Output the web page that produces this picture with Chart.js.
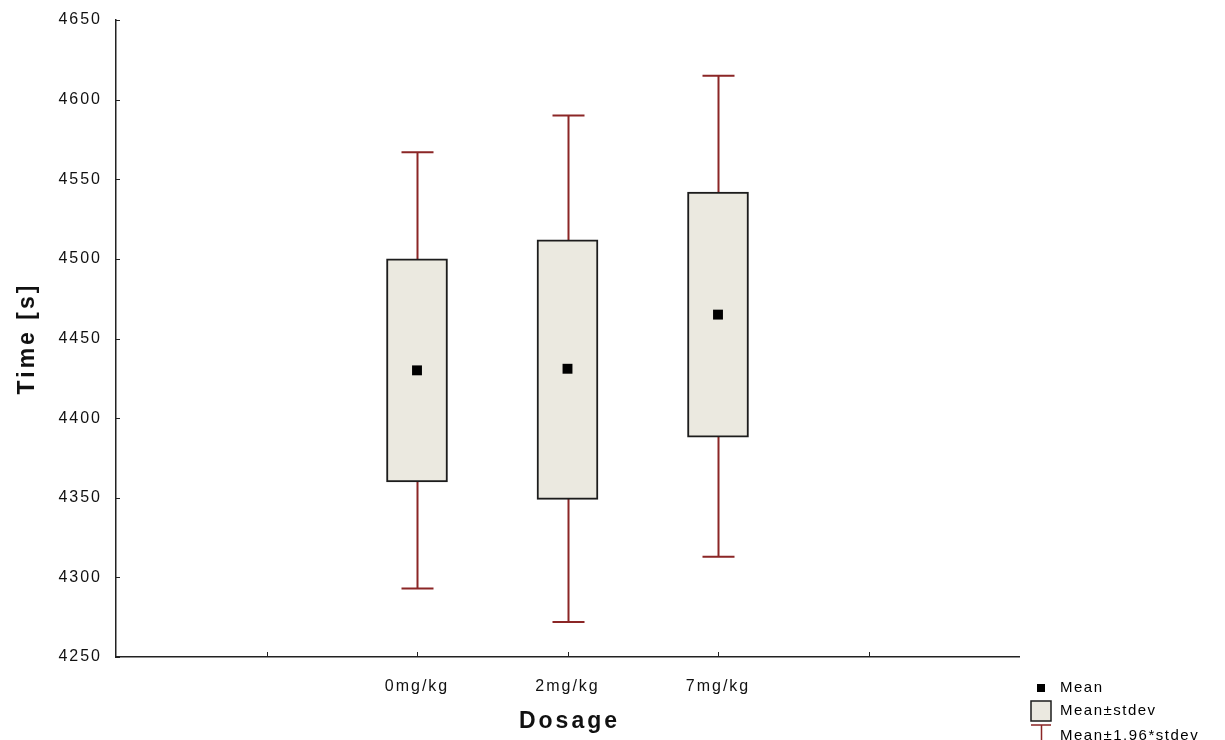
<!DOCTYPE html>
<html>
<head>
<meta charset="utf-8">
<script src="https://cdn.jsdelivr.net/npm/chart.js@4.4.1/dist/chart.umd.min.js"></script>
<style>
  html, body { margin: 0; padding: 0; background: #ffffff; }
  #wrap { width: 1225px; height: 740px; position: relative; }
</style>
</head>
<body>
<div id="wrap"><canvas id="c" width="1225" height="740"></canvas></div>
<script>
// ---- data ----
const categories = ['0mg/kg', '2mg/kg', '7mg/kg'];
const categoryPositions = [2, 3, 4];
const means = [4430, 4431, 4465];
const sdLow = [4360, 4349, 4388];
const sdHigh = [4500, 4512, 4542];
const ciLow = [4293, 4272, 4313];
const ciHigh = [4567, 4590, 4615];
const yMin = 4250, yMax = 4650, yStep = 50;
const xMin = 0, xMax = 6;
const legendLabels = ['Mean', 'Mean±stdev', 'Mean±1.96*stdev'];
const xTitle = 'Dosage';
const yTitle = 'Time [s]';

const WHISKER = '#8b2626';
const BOXFILL = '#ebe9e0';
const BOXLINE = '#1c1c1c';
const FONT = '"Liberation Sans", Arial, sans-serif';

const decor = {
  id: 'decor',
  beforeDraw(chart) {
    chart.ctx.letterSpacing = '2px';
  },
  beforeDatasetsDraw(chart) {
    const ctx = chart.ctx, xs = chart.scales.x, ys = chart.scales.y;
    ctx.save();
    ctx.strokeStyle = WHISKER;
    ctx.lineWidth = 2;
    categoryPositions.forEach((p, i) => {
      const x = Math.round(xs.getPixelForValue(p)) + 0.5;
      const yt = ys.getPixelForValue(ciHigh[i]);
      const yb = ys.getPixelForValue(ciLow[i]);
      ctx.beginPath();
      ctx.moveTo(x, yt); ctx.lineTo(x, yb);
      ctx.moveTo(x - 16, yt); ctx.lineTo(x + 16, yt);
      ctx.moveTo(x - 16, yb); ctx.lineTo(x + 16, yb);
      ctx.stroke();
    });
    ctx.restore();
  },
  afterDraw(chart) {
    const ctx = chart.ctx, xs = chart.scales.x, ys = chart.scales.y;
    const a = chart.chartArea;
    ctx.save();
    // inward ticks
    ctx.strokeStyle = '#222';
    ctx.lineWidth = 1;
    ctx.beginPath();
    for (let v = yMin; v <= yMax; v += yStep) {
      const y = Math.round(ys.getPixelForValue(v)) + 0.5;
      ctx.moveTo(a.left, y); ctx.lineTo(a.left + 4, y);
    }
    for (let v = xMin + 1; v < xMax; v++) {
      const x = Math.round(xs.getPixelForValue(v)) + 0.5;
      ctx.moveTo(x, a.bottom); ctx.lineTo(x, a.bottom - 5);
    }
    ctx.stroke();

    // axis titles
    ctx.fillStyle = '#111';
    ctx.font = 'bold 23px ' + FONT;
    ctx.letterSpacing = '3px';
    ctx.textAlign = 'center';
    ctx.textBaseline = 'middle';
    ctx.fillText(xTitle, (a.left + a.right) / 2 + 2, 722);
    ctx.save();
    ctx.translate(28, (a.top + a.bottom) / 2);
    ctx.rotate(-Math.PI / 2);
    ctx.fillText(yTitle, 0, 0);
    ctx.restore();

    // legend
    ctx.font = '15px ' + FONT;
    ctx.letterSpacing = '1.5px';
    ctx.textAlign = 'left';
    ctx.textBaseline = 'middle';
    const lx = 1041, tx = 1060;
    const rows = [688, 711, 734];
    // mean marker
    ctx.fillStyle = '#000';
    ctx.fillRect(lx - 4, rows[0] - 4, 8, 8);
    ctx.fillText(legendLabels[0], tx, rows[0]);
    // box swatch
    ctx.fillStyle = BOXFILL;
    ctx.fillRect(lx - 10, rows[1] - 10, 20, 20);
    ctx.strokeStyle = BOXLINE;
    ctx.lineWidth = 1.5;
    ctx.strokeRect(lx - 10, rows[1] - 10, 20, 20);
    ctx.fillStyle = '#000';
    ctx.fillText(legendLabels[1], tx, rows[1]);
    // whisker icon
    ctx.strokeStyle = WHISKER;
    ctx.lineWidth = 1.5;
    ctx.beginPath();
    ctx.moveTo(lx - 10, rows[2] - 9); ctx.lineTo(lx + 10, rows[2] - 9);
    ctx.moveTo(lx + 0.5, rows[2] - 9); ctx.lineTo(lx + 0.5, 742);
    ctx.stroke();
    ctx.fillText(legendLabels[2], tx, rows[2] + 2);
    ctx.restore();
  }
};

new Chart(document.getElementById('c'), {
  type: 'bar',
  data: {
    datasets: [
      {
        type: 'scatter',
        label: legendLabels[0],
        data: categoryPositions.map((p, i) => ({ x: p, y: means[i] })),
        pointStyle: 'rect',
        pointRadius: 7,
        pointBackgroundColor: '#000',
        pointBorderWidth: 0,
        order: 0
      },
      {
        type: 'bar',
        label: legendLabels[1],
        data: categoryPositions.map((p, i) => ({ x: p, y: [sdLow[i], sdHigh[i]] })),
        backgroundColor: BOXFILL,
        borderColor: BOXLINE,
        borderWidth: 2,
        borderSkipped: false,
        barThickness: 61,
        order: 1
      }
    ]
  },
  options: {
    responsive: false,
    animation: false,
    devicePixelRatio: 1,
    layout: { padding: { top: 20, right: 206, bottom: 0, left: 0 } },
    plugins: { legend: { display: false }, tooltip: { enabled: false } },
    scales: {
      x: {
        type: 'linear',
        min: xMin, max: xMax,
        offset: false,
        grid: { display: true, drawOnChartArea: false, drawTicks: false },
        border: { display: true, color: '#222', width: 1.5 },
        ticks: {
          stepSize: 1,
          autoSkip: false,
          maxRotation: 0,
          padding: 20,
          color: '#111',
          font: { family: FONT, size: 16 },
          callback: (v) => {
            const i = categoryPositions.indexOf(v);
            return i >= 0 ? categories[i] : '';
          }
        },
        afterFit: (s) => { s.height = 83; s.paddingLeft = 0; s.paddingRight = 0; }
      },
      y: {
        type: 'linear',
        min: yMin, max: yMax,
        grid: { display: true, drawOnChartArea: false, drawTicks: false },
        border: { display: true, color: '#222', width: 1.5 },
        ticks: {
          stepSize: yStep,
          padding: 14,
          color: '#111',
          font: { family: FONT, size: 16 },
          callback: (v) => String(v)
        },
        afterFit: (s) => { s.width = 116; s.paddingTop = 0; s.paddingBottom = 0; }
      }
    }
  },
  plugins: [decor]
});
</script>
</body>
</html>
